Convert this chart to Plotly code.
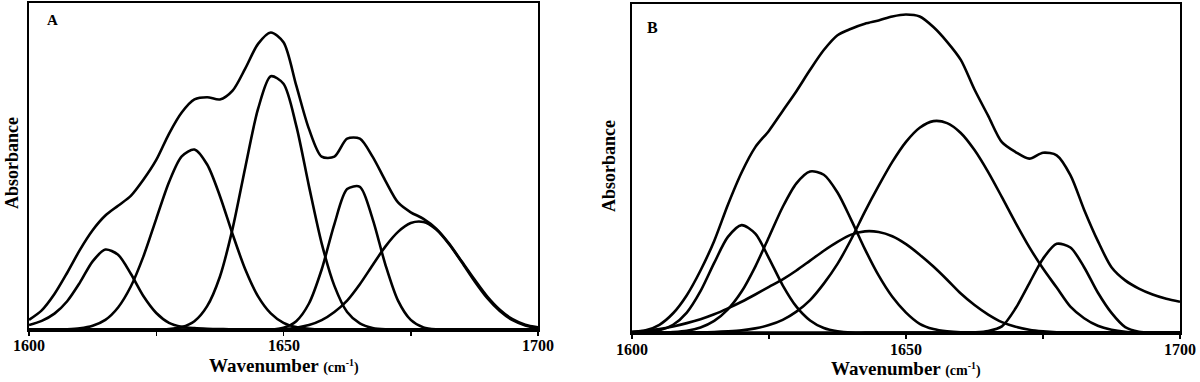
import plotly.graph_objects as go

# ---------------- data ----------------
WAVENUMBER = [1600, 1602.5, 1605, 1607.5, 1610, 1612.5, 1615, 1617.5, 1620, 1622.5,
              1625, 1627.5, 1630, 1632.5, 1635, 1637.5, 1640, 1642.5, 1645, 1647.5,
              1650, 1652.5, 1655, 1657.5, 1660, 1662.5, 1665, 1667.5, 1670, 1672.5,
              1675, 1677.5, 1680, 1682.5, 1685, 1687.5, 1690, 1692.5, 1695, 1697.5, 1700]

TICK_VALUES = [1600, 1625, 1650, 1675, 1700]
TICK_LABELS = ["1600", "", "1650", "", "1700"]

# Panel A
A_ENVELOPE = [0.031, 0.060, 0.110, 0.175, 0.245, 0.305, 0.350, 0.380, 0.410, 0.460,
              0.520, 0.600, 0.665, 0.705, 0.712, 0.705, 0.732, 0.800, 0.875, 0.910,
              0.880, 0.748, 0.615, 0.530, 0.530, 0.585, 0.585, 0.530, 0.457, 0.390,
              0.360, 0.340, 0.310, 0.265, 0.210, 0.155, 0.103, 0.062, 0.033, 0.016, 0.008]
A_BAND_1615 = [0.015, 0.028, 0.050, 0.088, 0.145, 0.210, 0.246, 0.230, 0.172, 0.103,
               0.052, 0.022, 0.010, 0.006, 0.004, 0.003, 0.002, 0.002, 0.002, 0.002,
               0.002, 0.002, 0.002, 0.002, 0.002, 0.002, 0.002, 0.002, 0.002, 0.002,
               0.002, 0.002, 0.002, 0.002, 0.002, 0.002, 0.002, 0.002, 0.002, 0.002, 0.002]
A_BAND_1632 = [0.000, 0.000, 0.001, 0.002, 0.005, 0.013, 0.031, 0.069, 0.133, 0.226,
               0.340, 0.452, 0.531, 0.552, 0.506, 0.410, 0.293, 0.185, 0.103, 0.051,
               0.022, 0.009, 0.004, 0.002, 0.002, 0.002, 0.002, 0.002, 0.002, 0.002,
               0.002, 0.002, 0.002, 0.002, 0.002, 0.002, 0.002, 0.002, 0.002, 0.002, 0.002]
A_BAND_1648 = [0.001, 0.001, 0.001, 0.001, 0.001, 0.001, 0.001, 0.001, 0.001, 0.001,
               0.001, 0.003, 0.009, 0.027, 0.073, 0.163, 0.310, 0.498, 0.676, 0.776,
               0.753, 0.625, 0.440, 0.265, 0.135, 0.055, 0.020, 0.006, 0.002, 0.002,
               0.002, 0.002, 0.002, 0.002, 0.002, 0.002, 0.002, 0.002, 0.002, 0.002, 0.002]
A_BAND_1664 = [0.001, 0.001, 0.001, 0.001, 0.001, 0.001, 0.001, 0.001, 0.001, 0.001,
               0.001, 0.001, 0.001, 0.001, 0.001, 0.001, 0.001, 0.001, 0.001, 0.001,
               0.007, 0.027, 0.081, 0.185, 0.324, 0.431, 0.438, 0.340, 0.201, 0.090,
               0.031, 0.008, 0.002, 0.001, 0.001, 0.001, 0.001, 0.001, 0.001, 0.001, 0.001]
A_BAND_1676 = [0.001, 0.001, 0.001, 0.001, 0.001, 0.001, 0.001, 0.001, 0.001, 0.001,
               0.001, 0.001, 0.001, 0.001, 0.001, 0.001, 0.001, 0.001, 0.001, 0.002,
               0.003, 0.007, 0.015, 0.030, 0.055, 0.090, 0.140, 0.198, 0.255, 0.300,
               0.327, 0.330, 0.307, 0.263, 0.208, 0.150, 0.098, 0.058, 0.030, 0.014, 0.006]

# Panel B
B_ENVELOPE = [0.003, 0.008, 0.025, 0.060, 0.115, 0.190, 0.280, 0.390, 0.488, 0.565,
              0.615, 0.675, 0.735, 0.800, 0.860, 0.905, 0.925, 0.940, 0.950, 0.962,
              0.968, 0.962, 0.930, 0.885, 0.830, 0.740, 0.660, 0.580, 0.550, 0.530,
              0.548, 0.540, 0.480, 0.375, 0.280, 0.200, 0.160, 0.135, 0.117, 0.104, 0.095]
B_BAND_1620 = [0.001, 0.002, 0.008, 0.025, 0.062, 0.127, 0.213, 0.292, 0.328, 0.302,
               0.227, 0.145, 0.080, 0.038, 0.015, 0.005, 0.001, 0.001, 0.001, 0.001,
               0.001, 0.001, 0.001, 0.001, 0.001, 0.001, 0.001, 0.001, 0.001, 0.001,
               0.001, 0.001, 0.001, 0.001, 0.001, 0.001, 0.001, 0.001, 0.001, 0.001, 0.001]
B_BAND_1633 = [0.000, 0.000, 0.001, 0.003, 0.007, 0.017, 0.037, 0.072, 0.126, 0.202,
               0.292, 0.383, 0.455, 0.491, 0.481, 0.427, 0.344, 0.255, 0.175, 0.110,
               0.062, 0.028, 0.012, 0.005, 0.002, 0.002, 0.002, 0.002, 0.002, 0.002,
               0.002, 0.002, 0.002, 0.002, 0.002, 0.002, 0.002, 0.002, 0.002, 0.002, 0.002]
B_BAND_1643 = [0.004, 0.007, 0.012, 0.020, 0.030, 0.042, 0.057, 0.075, 0.095, 0.117,
               0.140, 0.163, 0.190, 0.220, 0.250, 0.277, 0.299, 0.309, 0.307, 0.294,
               0.270, 0.238, 0.202, 0.162, 0.120, 0.085, 0.056, 0.033, 0.019, 0.010,
               0.005, 0.002, 0.001, 0.001, 0.001, 0.001, 0.001, 0.001, 0.001, 0.001, 0.001]
B_BAND_1656 = [0.001, 0.001, 0.001, 0.001, 0.002, 0.002, 0.003, 0.005, 0.008, 0.014,
               0.024, 0.040, 0.065, 0.100, 0.150, 0.210, 0.285, 0.369, 0.447, 0.520,
               0.581, 0.624, 0.644, 0.638, 0.608, 0.556, 0.489, 0.413, 0.335, 0.261,
               0.196, 0.138, 0.080, 0.045, 0.022, 0.010, 0.004, 0.002, 0.001, 0.001, 0.001]
B_BAND_1678 = [0.001, 0.001, 0.001, 0.001, 0.001, 0.001, 0.001, 0.001, 0.001, 0.001,
               0.001, 0.001, 0.001, 0.001, 0.001, 0.001, 0.001, 0.001, 0.001, 0.001,
               0.001, 0.001, 0.001, 0.001, 0.001, 0.002, 0.006, 0.020, 0.075, 0.151,
               0.226, 0.271, 0.260, 0.200, 0.123, 0.061, 0.018, 0.004, 0.001, 0.001, 0.001]

PANEL_A = [A_ENVELOPE, A_BAND_1615, A_BAND_1632, A_BAND_1648, A_BAND_1664, A_BAND_1676]
PANEL_B = [B_ENVELOPE, B_BAND_1620, B_BAND_1633, B_BAND_1643, B_BAND_1656, B_BAND_1678]

# ---------------- figure ----------------
W, H = 1200, 382
SERIF = "Liberation Serif, Times New Roman, serif"
LINE = dict(color="black", width=2.6, shape="spline", smoothing=0.8)

fig = go.Figure()
for ys in PANEL_A:
    fig.add_trace(go.Scatter(x=WAVENUMBER, y=ys, mode="lines", line=LINE,
                             xaxis="x", yaxis="y", showlegend=False, hoverinfo="skip"))
for ys in PANEL_B:
    fig.add_trace(go.Scatter(x=WAVENUMBER, y=ys, mode="lines", line=LINE,
                             xaxis="x2", yaxis="y2", showlegend=False, hoverinfo="skip"))


def xax(domain, anchor):
    return dict(domain=domain, anchor=anchor, range=[1600, 1700],
                tickmode="array", tickvals=TICK_VALUES,
                ticks="outside", ticklen=4, tickwidth=1.5, tickcolor="black",
                showticklabels=False,
                showline=True, linecolor="black", linewidth=2, mirror=True,
                showgrid=False, zeroline=False)


def yax(domain, anchor):
    return dict(domain=domain, anchor=anchor, range=[0, 1],
                showticklabels=False, ticks="",
                showline=True, linecolor="black", linewidth=2, mirror=True,
                showgrid=False, zeroline=False)


fig.update_layout(
    width=W, height=H,
    margin=dict(l=0, r=0, t=0, b=0),
    paper_bgcolor="white", plot_bgcolor="white",
    xaxis=xax([29 / W, 538 / W], "y"),
    yaxis=yax([1 - 330 / H, 1 - 3 / H], "x"),
    xaxis2=xax([632 / W, 1180 / W], "y2"),
    yaxis2=yax([1 - 333 / H, 1 - 4 / H], "x2"),
)

XTITLE = "Wavenumber <span style='font-size:14px'>(cm<sup>-1</sup>)</span>"
YTITLE = "Absorbance"
ann_font = dict(family=SERIF, size=19, color="black", weight="bold")
tick_font = dict(family=SERIF, size=16, color="black", weight="bold")
annotations = [
    dict(text="A", x=52 / W, y=1 - 20 / H, yanchor="middle",
         font=dict(family=SERIF, size=15, color="black", weight="bold")),
    dict(text="B", x=652 / W, y=1 - 28 / H, yanchor="middle",
         font=dict(family=SERIF, size=16, color="black", weight="bold")),
    dict(text=XTITLE, x=284 / W, y=1 - 378 / H, yanchor="bottom", font=ann_font),
    dict(text=XTITLE, x=906 / W, y=1 - 381 / H, yanchor="bottom", font=ann_font),
    dict(text=YTITLE, x=12 / W, y=1 - 163 / H, yanchor="middle", textangle=-90,
         font=dict(family=SERIF, size=18, color="black", weight="bold")),
    dict(text=YTITLE, x=609 / W, y=1 - 166 / H, yanchor="middle", textangle=-90,
         font=dict(family=SERIF, size=18, color="black", weight="bold")),
]
# tick labels placed under each panel
for xref, ypix in (("x", 345.5), ("x2", 349)):
    for v, t in zip(TICK_VALUES, TICK_LABELS):
        if t:
            annotations.append(dict(text=t, x=v, xref=xref, y=1 - ypix / H, yanchor="middle",
                                    font=tick_font))
for a in annotations:
    a.setdefault("xref", "paper")
    a.update(yref="paper", showarrow=False, xanchor="center")
fig.update_layout(annotations=annotations)

fig.write_html("out.html", config={"displayModeBar": False, "staticPlot": True},
               post_script="document.body.style.margin='0';document.body.style.overflow='hidden';")
